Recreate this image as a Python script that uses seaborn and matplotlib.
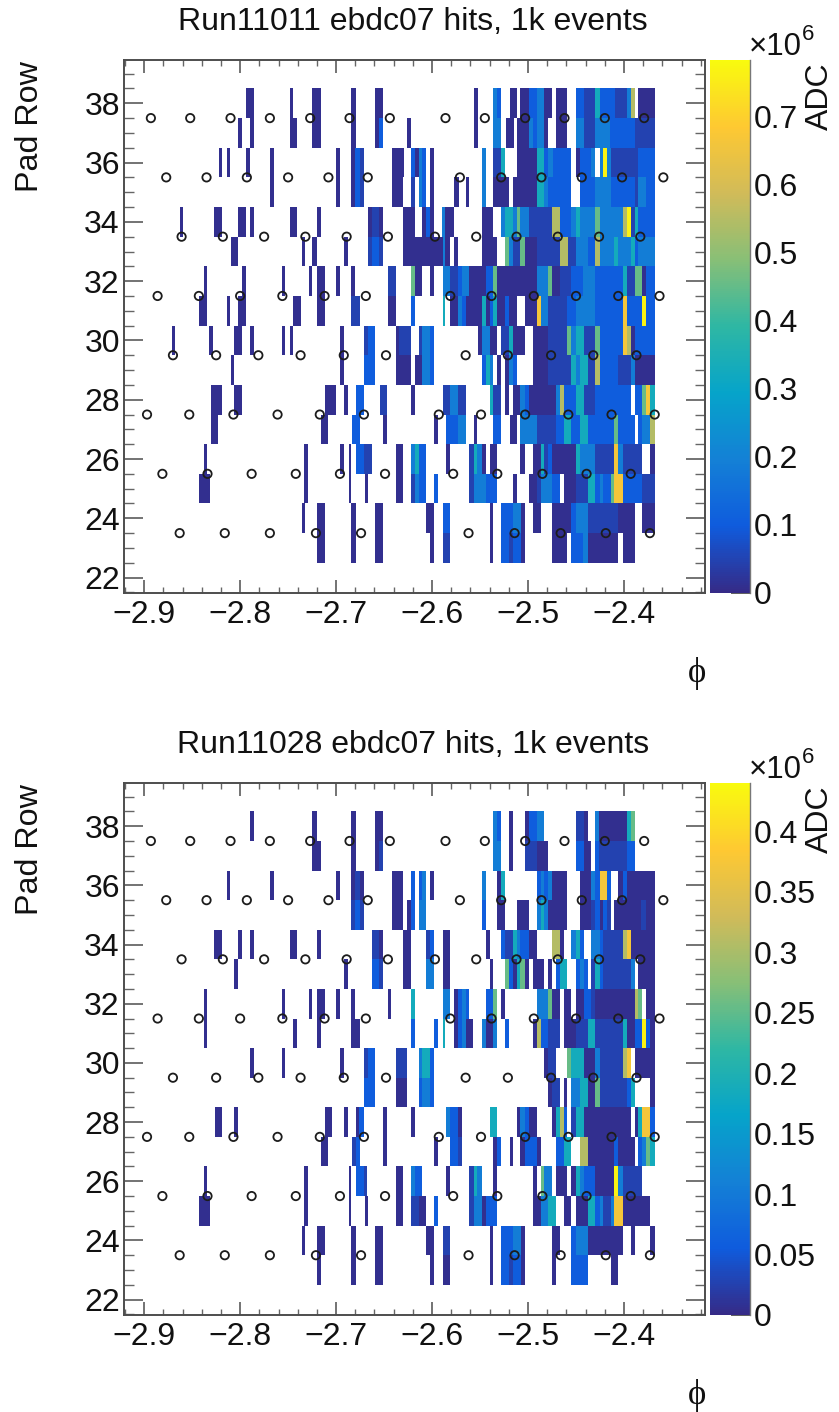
import numpy as np
import pandas as pd
import matplotlib
matplotlib.use("Agg")
import matplotlib.pyplot as plt
import seaborn as sns
from matplotlib.colors import LinearSegmentedColormap
from matplotlib.ticker import MultipleLocator

# phi axis: each hit token is "start-stop+level", start/stop = (phi + 2.9) * 1000
PAD_ROWS = [38, 37, 36, 35, 34, 33, 32, 31, 30, 29, 28, 27, 26, 25, 24, 23]
LEVELS = {"n": .015, "d": .06, "b": .13, "c": .24, "t": .42, "g": .58, "o": .70, "a": .85, "y": .98}

RUN11011_MAX = 0.783
RUN11011_HITS = [
    "106-114n 152-155n 175-184n 216-221n 241-249n 344-348n 364-368c 368-372b 381-389n 392-401n 401-409b 409-417c 417-425n 429-441n 450-458b 458-470d 470-475t 475-491b 491-503d 503-507c 507-511o 515-532n",
    "98-102n 110-114n 152-159n 175-184n 216-221n 241-245n 245-249b 274-278n 344-348n 364-372c 377-385n 389-401n 401-405c 405-409b 409-417c 417-421n 429-441n 450-458c 458-470d 470-475c 475-485c 485-511b 511-532d",
    "78-81n 86-89n 106-110n 131-135n 200-204n 216-220n 220-225b 225-229d 258-271n 278-282b 282-286n 286-290c 290-294b 298-302n 352-356c 364-372d 372-376t 389-409n 409-417t 417-421b 421-426c 426-445b 450-454n 454-466b 466-470c 475-478c 478-482y 482-486c 486-494d 494-515d 515-532b",
    "131-135n 200-204n 216-220n 220-225b 225-229d 258-270n 278-282d 286-290c 290-294b 298-302n 323-328n 335-339n 352-356c 364-380n 384-409n 409-417t 417-421c 421-445b 454-470b 470-475c 475-486c 486-494b 494-511b 511-515d 515-523c 523-532b",
    "37-40n 73-81n 98-106n 110-114n 152-159n 180-184n 233-237n 237-245d 245-249n 270-282n 290-294n 294-298b 298-302n 310-314c 314-323n 352-364n 372-376c 376-384t 384-389c 389-392g 392-401c 401-409d 409-425d 425-433o 433-445b 445-450c 450-454t 454-470c 470-475g 475-499c 499-503o 503-507y 507-511d 511-515t 515-532b",
    "90-98n 164-168n 175-180n 208-212n 233-237d 237-245b 245-249d 270-311n 311-314c 314-319n 323-327n 352-368n 376-380g 380-384c 384-392d 392-397g 397-409n 409-433d 433-442o 442-450d 450-462c 462-470b 470-475o 475-490c 490-494t 494-507c 507-511t 511-515b 515-532c",
    "62-65n 102-106n 144-147n 172-175n 180-188n 200-204n 216-220n 254-262d 278-282g 282-290n 298-302n 311-319c 319-327d 327-331b 331-339c 339-356n 356-364b 364-368g 368-409n 409-421c 421-425g 425-433n 433-445d 445-457b 457-470c 470-499b 499-503t 503-511d 511-519g 519-523n 523-532b",
    "57-65n 86-89n 98-106n 155-163n 180-188n 216-225d 254-262n 278-282b 311-314t 319-327n 327-331c 331-335b 335-352n 352-356t 356-360n 360-364b 364-368t 368-376n 376-380b 380-389n 397-409n 409-413a 413-421c 421-441d 441-450b 450-470c 470-499b 499-503a 503-519b 519-523y 523-532b",
    "29-32n 68-72n 94-102n 110-114n 144-147n 152-155n 204-208n 229-233d 233-241b 262-266n 266-278d 286-290d 290-298c 298-302b 348-352n 352-360c 360-368n 372-380d 380-384t 384-397n 405-421n 421-441d 441-445g 445-450c 450-458t 458-470d 470-475g 475-499b 499-503a 503-507o 507-511n 511-532b",
    "90-94n 204-208n 229-241b 262-278n 282-290n 290-298c 298-302b 352-356b 356-360t 360-364c 368-372n 376-380n 380-384c 384-389b 405-421n 421-445d 445-450t 450-454c 454-462t 462-470d 470-475o 475-494b 494-507d 507-511c 511-532n",
    "70-81n 94-102n 188-200n 208-212n 221-229b 246-253d 278-282n 311-319d 319-327c 327-335d 360-364t 364-372d 376-380n 384-392n 392-397c 397-401b 401-429n 429-433c 433-437o 437-450b 450-458t 458-470d 470-507b 511-519b 519-523g 523-527a 527-532t",
    "70-77n 184-192n 217-221b 221-225b 249-253n 302-306n 315-319b 319-327b 327-335c 344-347n 364-372b 381-389n 392-409c 409-429d 429-437b 437-445t 445-454b 454-462t 462-490b 490-494g 494-511b 515-519b 519-527c 527-532o",
    "62-65n 167-171n 204-208n 213-216n 221-229b 229-237d 262-270n 278-282c 282-286t 286-294b 315-319n 339-344d 344-347t 347-352c 352-356n 360-368n 392-397n 405-413n 413-417t 417-421d 421-425b 425-450n 450-454t 454-470c 470-490d 490-494a 494-499c 499-519d 527-532n",
    "57-69n 167-171n 213-216n 230-233n 262-270n 278-282d 282-286c 286-294b 302-306b 339-344d 344-347c 347-356c 356-368b 384-389n 401-409n 409-413d 413-425c 425-433b 437-450n 450-462d 462-470t 470-475b 475-478c 478-486b 486-490g 490-499a 499-519b 519-532d",
    "164-168n 180-188n 216-221n 241-249n 294-302n 311-319b 360-364n 372-384b 384-393c 393-397n 405-413n 425-445n 445-450b 450-462c 462-494d 494-511n 519-532n",
    "180-188n 216-221n 241-249n 298-302n 311-319d 360-364n 372-380b 380-384d 384-393b 393-397n 425-441n 445-457b 457-462c 462-494n 499-511n",
]

RUN11028_MAX = 0.44
RUN11028_HITS = [
    "110-114n 175-180n 216-221n 241-249n 364-368c 368-372b 380-384n 397-401n 401-409b 409-417c 450-458d 458-462n 470-474c 474-503n 503-507t 507-511g",
    "175-184n 216-221n 241-245n 245-249d 364-372c 380-384n 397-409d 409-421n 450-458b 458-466n 470-474b 474-503d 503-511b",
    "86-89n 131-135n 200-204n 216-220n 220-225d 225-229n 258-270n 278-282b 286-290b 290-294c 298-302n 352-356c 368-372n 372-376t 409-413b 413-417c 417-421b 421-425c 425-441n 454-466n 466-470c 470-475b 475-482a 482-486b 494-499n 499-503b 503-532n",
    "216-220d 220-225b 225-229d 258-270n 274-278n 278-282b 286-294c 352-356b 368-376n 389-401n 409-413c 413-417t 417-421c 421-441n 454-466n 466-470d 470-475b 475-478n 478-482b 482-486d 490-518n 518-523d 523-532n",
    "73-81n 98-102n 110-114n 152-159n 180-184n 237-245d 245-249n 270-278n 294-298d 298-302b 311-319n 356-360n 372-376b 376-384d 384-389t 389-392c 392-401b 401-409n 425-433o 433-437n 445-450c 450-454t 454-458b 466-475c 475-478b 478-499d 499-503o 503-507a 507-511n 511-532n",
    "94-98n 208-212n 237-245b 245-249d 270-278n 294-302c 311-319n 360-364n 376-380g 380-384b 384-389n 389-392t 392-397g 397-401n 405-417n 421-425n 429-433b 433-441t 450-454b 454-458c 458-462b 466-470d 470-475t 475-478b 478-507d 507-511c 515-532n",
    "62-65n 144-147n 172-175n 180-188n 200-204n 216-220n 254-257n 278-282t 311-319c 323-327n 327-331b 331-335c 335-339b 356-364b 364-368g 372-376n 409-421c 421-425g 425-433n 437-445n 450-458n 458-466b 466-470d 470-511n 511-515o 515-519g 523-532n",
    "62-65n 155-159n 180-184n 216-225n 278-282b 302-306b 311-314t 323-327n 327-331b 331-335c 335-343n 352-356c 356-364n 364-368c 376-380b 405-409n 409-413o 413-421b 421-433d 437-450n 450-462d 462-470t 470-499d 499-503t 503-511n 511-519b 519-523y 523-527b 527-532n",
    "110-114n 144-147n 204-208n 229-233d 233-241b 262-274d 286-290c 290-298t 298-302b 417-421n 421-429d 441-445g 445-450t 450-458t 458-470n 470-475c 475-499d 499-503o 503-507a 511-532n",
    "229-241b 262-274n 286-290b 290-298c 298-302b 421-425n 425-433d 437-441n 445-454c 454-462t 462-470n 470-475g 475-503d 503-507b 507-511t 527-532n",
    "74-81n 94-98n 188-196n 208-212n 221-224n 224-229b 249-253n 278-282n 315-319c 319-327b 327-331n 360-368t 389-392n 392-397c 397-401b 401-409n 425-429n 429-433t 433-437o 437-441b 445-450d 450-458t 458-507n 511-515n 515-519t 519-527a 527-532b",
    "184-192n 217-221d 221-225b 249-253n 302-306n 319-327b 327-331d 364-368n 368-372b 381-384n 392-397n 397-409b 409-413n 429-437b 437-445t 454-462o 462-490n 490-494b 494-511n 515-519b 519-523c 523-527g 527-532t",
    "62-65n 167-171n 213-216n 221-229b 229-232d 262-270n 278-282c 282-290b 315-319n 339-344d 344-347t 347-352c 364-368n 405-409n 413-417g 417-425c 429-441n 445-450n 450-454t 454-458c 458-470b 470-490n 490-494y 494-499c 499-519d",
    "57-69n 167-171n 213-216n 230-233n 262-270n 278-286d 286-294n 302-306b 339-344d 344-352c 352-356n 356-368b 405-413n 413-421c 421-429t 437-445n 450-462n 462-470t 470-475b 475-478c 478-486d 486-490c 490-499a 499-527n",
    "164-168n 180-188n 216-221n 241-249n 294-302n 311-319d 360-364n 372-384b 384-393c 393-397n 425-433n 445-450b 450-462c 462-499n 507-511n 527-532n",
    "180-184n 216-221n 241-249n 298-302n 311-319n 360-364n 372-380b 380-384d 384-393b 393-397n 425-429n 445-462b 486-494n",
]

# pad centres, phi offset in the same unit, one list per staggered row
PAD_Y = [37.5, 35.5, 33.5, 31.5, 29.5, 27.5, 25.5, 23.5]
PAD_PHI = [
    [7, 48, 90, 131, 173, 214, 256, 314, 355, 397, 438, 480, 521],
    [23, 65, 107, 150, 192, 233, 329, 372, 414, 456, 498, 541],
    [39, 82, 125, 168, 211, 254, 303, 346, 388, 431, 474, 517],
    [14, 57, 100, 144, 188, 231, 319, 362, 406, 450, 494, 537],
    [30, 75, 119, 163, 208, 252, 335, 379, 424, 468, 513],
    [3, 47, 93, 139, 183, 229, 307, 351, 397, 442, 487, 532],
    [19, 66, 112, 158, 204, 251, 322, 368, 415, 461, 507],
    [37, 84, 131, 179, 226, 338, 386, 434, 481, 527],
]

X_TICKS = [-2.9, -2.8, -2.7, -2.6, -2.5, -2.4]
Y_TICKS = [22, 24, 26, 28, 30, 32, 34, 36, 38]
CBAR_A_TICKS = [0, 0.1, 0.2, 0.3, 0.4, 0.5, 0.6, 0.7]
CBAR_A_LABELS = ["0", "0.1", "0.2", "0.3", "0.4", "0.5", "0.6", "0.7"]
CBAR_B_TICKS = [0, 0.05, 0.1, 0.15, 0.2, 0.25, 0.3, 0.35, 0.4]
CBAR_B_LABELS = ["0", "0.05", "0.1", "0.15", "0.2", "0.25", "0.3", "0.35", "0.4"]

# ROOT kBird palette
bird = LinearSegmentedColormap.from_list("bird", [
    (0.2082, 0.1664, 0.5293), (0.0592, 0.3599, 0.8684), (0.0780, 0.5041, 0.8385),
    (0.0232, 0.6419, 0.7914), (0.1802, 0.7178, 0.6425), (0.5301, 0.7492, 0.4662),
    (0.8186, 0.7328, 0.3499), (0.9956, 0.7862, 0.1968), (0.9764, 0.9832, 0.0539),
], N=256)

W, H = 839, 1412
sns.set_style("ticks")
plt.rcParams["font.family"] = ["Liberation Sans", "DejaVu Sans"]
LINE = "#4d4d4d"
INK = "#111111"


def hits_frame(hits, scale):
    recs = []
    for row, text in zip(PAD_ROWS, hits):
        for tok in text.split():
            lo, hi = tok[:-1].split("-")
            for m in range(int(lo), int(hi)):
                recs.append((-2.9 + (m + 0.5) / 1000, row, LEVELS[tok[-1]] * scale))
    return pd.DataFrame(recs, columns=["phi", "row", "adc"])


def box(left, top, right, bottom):
    return [left / W, 1 - bottom / H, (right - left) / W, (bottom - top) / H]


def draw_panel(fig, top, bottom, hits, vmax, title, cticks, clabels):
    ax = fig.add_axes(box(124, top, 705, bottom))
    cax = fig.add_axes(box(710, top, 750, bottom))
    df = hits_frame(hits, vmax)
    x_edges = -2.9 + np.arange(-21, 586) / 1000
    y_edges = np.arange(21.5, 40.5, 1.0)
    sns.histplot(data=df, x="phi", y="row", weights="adc", bins=[x_edges, y_edges],
                 cmap=bird, vmin=0, vmax=vmax, cbar=True, cbar_ax=cax, ax=ax)
    pads = pd.DataFrame([(-2.9 + m / 1000, y) for y, row in zip(PAD_Y, PAD_PHI) for m in row],
                        columns=["phi", "y"])
    sns.scatterplot(data=pads, x="phi", y="y", ax=ax, s=36, marker="o", facecolor="none",
                    edgecolor="#1c1c1c", linewidth=1.3, zorder=5)

    ax.set_xlim(-2.921, -2.3156)
    ax.set_ylim(21.48, 39.46)
    ax.set_xlabel("")
    ax.set_ylabel("")
    ax.set_xticks(X_TICKS)
    ax.set_xticklabels([f"\u2212{abs(v):.1f}" for v in X_TICKS])
    ax.set_yticks(Y_TICKS)
    ax.xaxis.set_minor_locator(MultipleLocator(0.02))
    ax.yaxis.set_minor_locator(MultipleLocator(0.5))
    ax.tick_params(axis="x", which="major", direction="in", top=True, bottom=True, length=9.5, width=1.1,
                   color=LINE, labelsize=23, pad=5, labelcolor=INK)
    ax.tick_params(axis="x", which="minor", direction="in", top=True, bottom=True, length=4.5, width=1.0, color="#666666")
    ax.tick_params(axis="y", which="major", direction="in", left=True, right=True, length=14, width=1.1,
                   color=LINE, labelsize=23, pad=3, labelcolor=INK)
    ax.tick_params(axis="y", which="minor", direction="in", left=True, right=True, length=7, width=1.0, color="#666666")
    for sp in ax.spines.values():
        sp.set_visible(True)
        sp.set_color(LINE)
        sp.set_linewidth(1.4)

    cax.set_yticks(cticks)
    cax.set_yticklabels(clabels)
    cax.minorticks_off()
    cax.tick_params(axis="y", right=True, direction="in", length=14, width=1.1, color="#333333",
                    labelsize=23, pad=3, labelcolor=INK)
    for name, sp in cax.spines.items():
        sp.set_visible(name == "right")
        sp.set_color("#777777")
        sp.set_linewidth(1.0)

    # text placed in picture coordinates, ROOT style
    fig.text(413 / W, 1 - (top - 38) / H, title, ha="center", va="center", fontsize=23, color=INK)
    fig.text(30 / W, 1 - (top + 1) / H, "Pad Row", rotation=90, ha="center", va="top", fontsize=23.2, color=INK)
    fig.text(697 / W, 1 - (bottom + 80) / H, "\u03d5", ha="center", va="center", fontsize=25,
             family=["Liberation Serif", "DejaVu Serif"], color=INK)
    fig.text(820 / W, 1 - (top + 2) / H, "ADC", rotation=90, ha="center", va="top", fontsize=23, color=INK)
    fig.text(749 / W, 1 - (top - 13) / H, "\u00d710", ha="left", va="center", fontsize=22.5, color=INK)
    fig.text(802 / W, 1 - (top - 26) / H, "6", ha="left", va="center", fontsize=16, color=INK)


fig = plt.figure(figsize=(W / 100, H / 100), dpi=100)
draw_panel(fig, 60, 593, RUN11011_HITS, RUN11011_MAX, "Run11011 ebdc07 hits, 1k events", CBAR_A_TICKS, CBAR_A_LABELS)
draw_panel(fig, 783, 1315, RUN11028_HITS, RUN11028_MAX, "Run11028 ebdc07 hits, 1k events", CBAR_B_TICKS, CBAR_B_LABELS)
fig.savefig("out.png", dpi=100)
plt.close(fig)
